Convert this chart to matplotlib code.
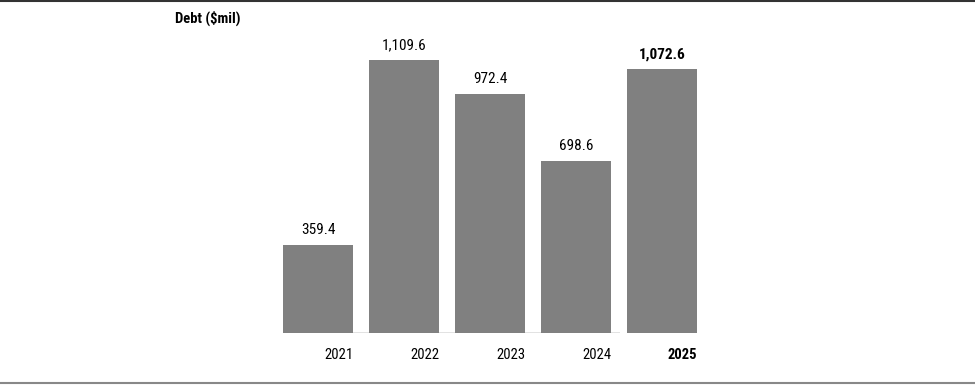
import matplotlib
matplotlib.use("Agg")
import matplotlib.pyplot as plt
from matplotlib.lines import Line2D

years = ["2021", "2022", "2023", "2024", "2025"]
debt = [359.4, 1109.6, 972.4, 698.6, 1072.6]
labels = ["359.4", "1,109.6", "972.4", "698.6", "1,072.6"]

plt.rcParams['font.family'] = ['Roboto Condensed', 'DejaVu Sans']

W, H = 975, 385
fig = plt.figure(figsize=(W / 100, H / 100), dpi=100)
base_px = 333
top_px = 20
ax = fig.add_axes([0, 1 - base_px / H, 1, (base_px - top_px) / H])

px_per_unit = 0.246
step = 86
c0 = 318
ax.set_xlim(-c0 / step, (W - c0) / step)
ax.set_ylim(0, (base_px - top_px) / px_per_unit)

x = list(range(len(years)))
ax.bar(x, debt, width=70 / step, color="#808080", zorder=2)

# faint baseline
ax.hlines(0, -35 / step, (620 - c0) / step, color="#dddddd", lw=1.2, zorder=1)

for i, (v, lab) in enumerate(zip(debt, labels)):
    bold = i == len(years) - 1
    ax.text(i, v + 8 / px_per_unit, lab, ha="center", va="bottom", fontsize=11,
            fontweight="bold" if bold else "normal", color="black")
    ax.text(i + 35 / step, -15 / px_per_unit, years[i], ha="right", va="top", fontsize=10.5,
            fontweight="bold" if bold else "normal", color="black", clip_on=False)

ax.axis("off")

fig.text(175 / W, 1 - 18 / H, "Debt ($mil)", ha="left", va="center", fontsize=10.5,
         fontweight="bold", color="black")

fig.add_artist(Line2D([0, 1], [1 - 0.5 / H, 1 - 0.5 / H], transform=fig.transFigure,
                      color="#333333", lw=1.5))
fig.add_artist(Line2D([0, 1], [1 - 383 / H, 1 - 383 / H], transform=fig.transFigure,
                      color="#888888", lw=1.5))

fig.savefig("out.png", dpi=100)
